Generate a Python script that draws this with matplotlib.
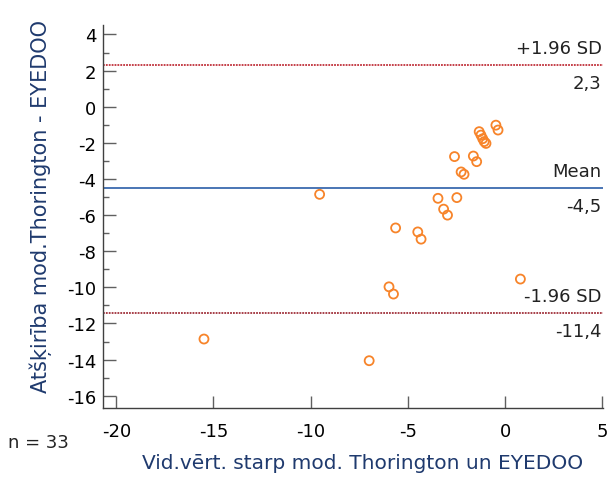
import matplotlib
matplotlib.use("Agg")
import matplotlib.pyplot as plt
from matplotlib.ticker import MultipleLocator

plt.rcParams['font.family'] = ['DejaVu Sans']

# Bland-Altman data (mean of methods vs difference)
avg_vals = [-9.54, -15.49, -5.97, -5.74, -5.63, -4.49, -4.32, -3.45, -3.16, -2.96,
            -2.48, -2.60, -2.26, -2.11, -1.63, -1.46, -1.33, -1.24, -1.15, -0.98,
            -1.07, -0.47, -0.36, 0.79, -6.99]
diff_vals = [-4.85, -12.86, -9.97, -10.37, -6.71, -6.93, -7.33, -5.07, -5.67, -6.00,
             -5.03, -2.76, -3.61, -3.74, -2.73, -3.04, -1.38, -1.57, -1.77, -2.03,
             -1.93, -1.02, -1.29, -9.54, -14.06]
mean_diff = -4.5
upper_loa = 2.3
lower_loa = -11.4
n_obs = 33

x_ticks = [-20, -15, -10, -5, 0, 5]
y_ticks = [4, 2, 0, -2, -4, -6, -8, -10, -12, -14, -16]

fig = plt.figure(figsize=(6.13, 4.81), dpi=100)
ax = fig.add_axes([0.1685, 0.150, 0.8155, 0.795])

ax.scatter(avg_vals, diff_vals, s=42, facecolors='none', edgecolors='#F7842A',
           linewidths=1.3, zorder=3)

ax.axhline(mean_diff, color='#2B5EA8', lw=1.2, zorder=2)
ax.axhline(upper_loa, color='#C0303A', lw=1.3, ls=(0, (1, 0.6)), zorder=2)
ax.axhline(lower_loa, color='#A0303A', lw=1.3, ls=(0, (1, 0.6)), zorder=2)

ax.set_xlim(-20.67, 5.05)
ax.set_ylim(-16.67, 4.5)
ax.set_xticks(x_ticks)
ax.set_yticks(y_ticks)
ax.yaxis.set_minor_locator(MultipleLocator(1))
ax.tick_params(axis='both', which='major', direction='in', length=9, width=1,
               color='#606060', labelsize=13)
ax.tick_params(axis='x', which='major', pad=10)
ax.tick_params(axis='y', which='major', pad=5)
ax.tick_params(axis='y', which='minor', direction='in', length=4.5, width=1,
               color='#606060')
ax.set_xticklabels([str(v) for v in x_ticks])
ax.set_yticklabels([str(v) for v in y_ticks])

for side in ['top', 'right']:
    ax.spines[side].set_visible(False)
for side in ['left', 'bottom']:
    ax.spines[side].set_color('#404040')
    ax.spines[side].set_linewidth(1.0)

txt = dict(ha='right', fontsize=13, color='#222222', transform=ax.get_yaxis_transform())
ax.text(0.997, upper_loa + 0.45, '+1.96 SD', va='bottom', **txt)
ax.text(0.997, upper_loa - 0.5, '2,3', va='top', **txt)
ax.text(0.997, mean_diff + 0.45, 'Mean', va='bottom', **txt)
ax.text(0.997, mean_diff - 0.5, '-4,5', va='top', **txt)
ax.text(0.997, lower_loa + 0.45, '-1.96 SD', va='bottom', **txt)
ax.text(0.997, lower_loa - 0.5, '-11,4', va='top', **txt)

ax.set_xlabel('Vid.vērt. starp mod. Thorington un EYEDOO', fontsize=14.5,
              color='#1F3A6E')
ax.xaxis.set_label_coords(0.518, -0.118)
ax.set_ylabel('Atšķirība mod.Thorington - EYEDOO', fontsize=15,
              color='#1F3A6E')
ax.yaxis.set_label_coords(-0.102, 0.53)
fig.text(0.013, 0.068, f'n = {n_obs}', fontsize=13, color='#222222')

fig.savefig('out.png', dpi=100, facecolor='white')
